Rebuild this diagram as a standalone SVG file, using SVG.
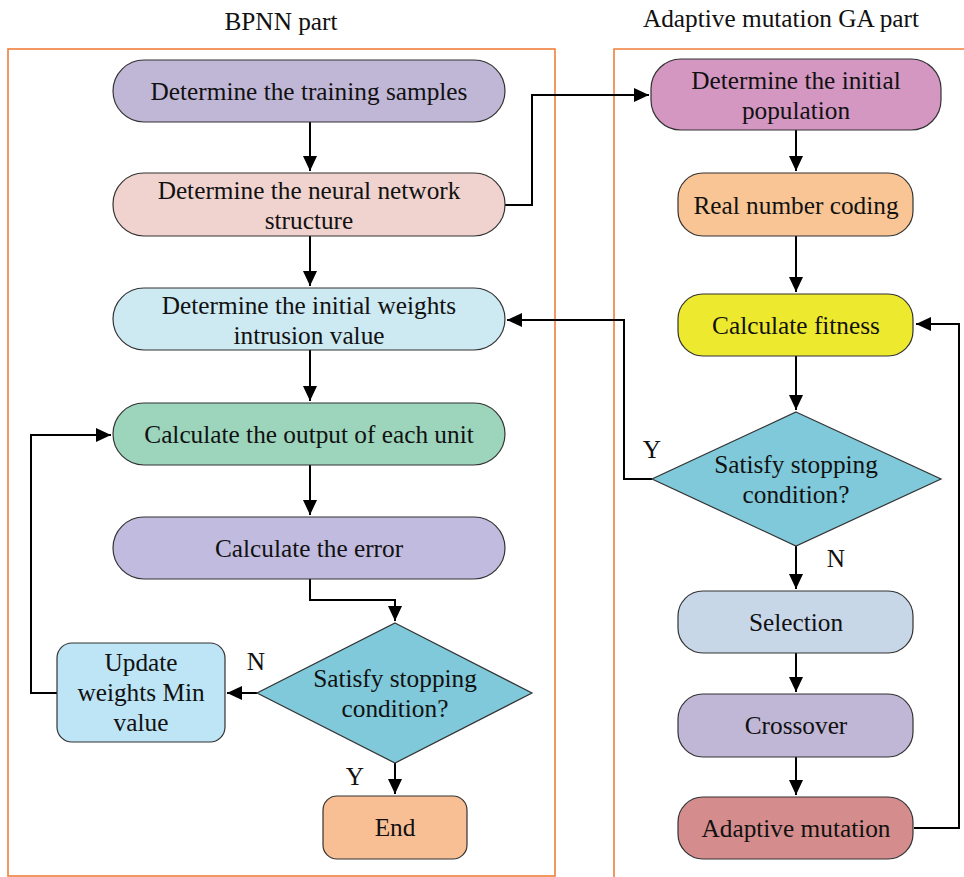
<svg xmlns="http://www.w3.org/2000/svg" width="964" height="877" viewBox="0 0 964 877">
<defs>
<style>
.t{font-family:"Liberation Serif","Times New Roman",serif;font-size:25.3px;fill:#111;text-anchor:middle;dominant-baseline:central}
.title{font-family:"Liberation Serif","Times New Roman",serif;font-size:25.3px;fill:#111;text-anchor:middle}
.n{stroke:#333;stroke-width:1.2}
.c{fill:none;stroke:#000;stroke-width:2}
.panel{fill:none;stroke:#f07f3a;stroke-width:1.6}
</style>
<marker id="ah" markerUnits="userSpaceOnUse" markerWidth="16" markerHeight="14" refX="15" refY="7" orient="auto">
<path d="M0,0 L15,7 L0,14 z" fill="#000"/>
</marker>
</defs>
<rect width="964" height="877" fill="#fff"/>
<g id="panels">
<rect class="panel" x="8" y="49" width="547" height="827"/>
<path class="panel" d="M614,877 L614,49 L964,49"/>
<text class="title" x="281" y="30">BPNN part</text>
<text class="title" x="781" y="27">Adaptive mutation GA part</text>
</g>
<g id="connectors">
<path class="c" d="M310,122 V171" marker-end="url(#ah)"/>
<path class="c" d="M310,236 V286" marker-end="url(#ah)"/>
<path class="c" d="M310,350 V401" marker-end="url(#ah)"/>
<path class="c" d="M310,465 V515" marker-end="url(#ah)"/>
<path class="c" d="M310,579 V600 H395 V621" marker-end="url(#ah)"/>
<path class="c" d="M257,693 H227" marker-end="url(#ah)"/>
<path class="c" d="M57,693 H31 V435 H111" marker-end="url(#ah)"/>
<path class="c" d="M395,763 V794" marker-end="url(#ah)"/>
<path class="c" d="M505,205 H532 V95 H649" marker-end="url(#ah)"/>
<path class="c" d="M796,130 V171" marker-end="url(#ah)"/>
<path class="c" d="M796,236 V292" marker-end="url(#ah)"/>
<path class="c" d="M796,356 V410" marker-end="url(#ah)"/>
<path class="c" d="M652,479 H624 V320 H507" marker-end="url(#ah)"/>
<path class="c" d="M796,546 V589" marker-end="url(#ah)"/>
<path class="c" d="M796,653 V692" marker-end="url(#ah)"/>
<path class="c" d="M796,757 V795" marker-end="url(#ah)"/>
<path class="c" d="M914,828 H959 V324 H916" marker-end="url(#ah)"/>
<text class="t" x="256" y="661">N</text>
<text class="t" x="355" y="776">Y</text>
<text class="t" x="652" y="449">Y</text>
<text class="t" x="836" y="558">N</text>
</g>
<g id="n1"><rect class="n" x="113" y="60" width="392" height="62" rx="31" fill="#c0b6d6"/><text class="t" x="309" y="91">Determine the training samples</text></g>
<g id="n2"><rect class="n" x="113" y="173" width="392" height="63" rx="31" fill="#f0d3cf"/><text class="t" x="309" y="190">Determine the neural network</text><text class="t" x="309" y="220">structure</text></g>
<g id="n3"><rect class="n" x="113" y="288" width="392" height="62" rx="31" fill="#cde9f2"/><text class="t" x="309" y="305">Determine the initial weights</text><text class="t" x="309" y="335">intrusion value</text></g>
<g id="n4"><rect class="n" x="113" y="403" width="392" height="62" rx="31" fill="#9dd4bc"/><text class="t" x="309" y="434">Calculate the output of each unit</text></g>
<g id="n5"><rect class="n" x="113" y="517" width="392" height="62" rx="31" fill="#c0bbdf"/><text class="t" x="309" y="548">Calculate the error</text></g>
<g id="d1"><polygon class="n" points="395,623 532,693 395,763 257,693" fill="#7fc9da"/><text class="t" x="395" y="678">Satisfy stopping</text><text class="t" x="395" y="708">condition?</text></g>
<g id="upd"><rect class="n" x="57" y="643" width="168" height="99" rx="15" fill="#bde5f6"/><text class="t" x="141" y="662">Update</text><text class="t" x="141" y="692">weights Min</text><text class="t" x="141" y="722">value</text></g>
<g id="end"><rect class="n" x="323" y="796" width="144" height="63" rx="14" fill="#f9bf94"/><text class="t" x="395" y="827">End</text></g>
<g id="r1"><rect class="n" x="651" y="59" width="290" height="71" rx="30" fill="#d497c2"/><text class="t" x="796" y="80">Determine the initial</text><text class="t" x="796" y="110">population</text></g>
<g id="r2"><rect class="n" x="678" y="173" width="235" height="63" rx="25" fill="#f9c594"/><text class="t" x="796" y="205">Real number coding</text></g>
<g id="r3"><rect class="n" x="678" y="294" width="235" height="62" rx="25" fill="#ede92e"/><text class="t" x="796" y="325">Calculate fitness</text></g>
<g id="d2"><polygon class="n" points="796,412 941,479 796,546 652,479" fill="#7fc9da"/><text class="t" x="796" y="464">Satisfy stopping</text><text class="t" x="796" y="494">condition?</text></g>
<g id="r4"><rect class="n" x="678" y="591" width="235" height="62" rx="25" fill="#c7d7e8"/><text class="t" x="796" y="622">Selection</text></g>
<g id="r5"><rect class="n" x="678" y="694" width="235" height="63" rx="25" fill="#c0b6d6"/><text class="t" x="796" y="725">Crossover</text></g>
<g id="r6"><rect class="n" x="678" y="797" width="235" height="62" rx="25" fill="#d48c8c"/><text class="t" x="796" y="828">Adaptive mutation</text></g>
</svg>
